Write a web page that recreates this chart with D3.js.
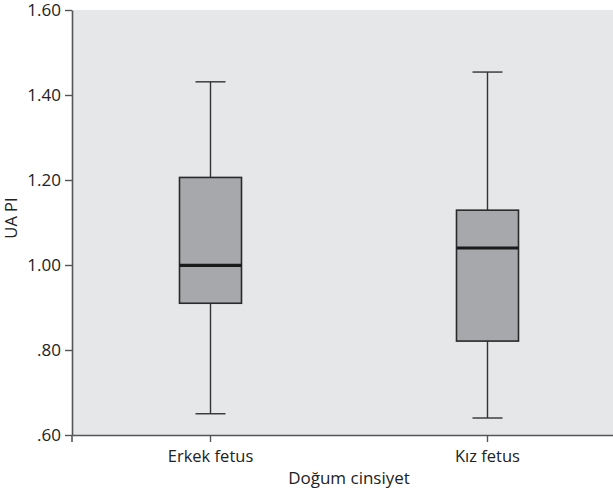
<!DOCTYPE html>
<html><head><meta charset="utf-8">
<script src="https://cdn.jsdelivr.net/npm/d3@7"></script>
<style>body{margin:0;background:#fff}svg{display:block}text{font-family:"Open Sans",sans-serif;fill:#222}</style>
</head><body>
<svg id="c" width="613" height="498"></svg>
<script>
const categories = ["Erkek fetus", "Kız fetus"];
const whiskerLow = [0.65, 0.64];
const q1 = [0.91, 0.821];
const median = [0.999, 1.04];
const q3 = [1.206, 1.129];
const whiskerHigh = [1.431, 1.454];
const yTicks = [0.6, 0.8, 1.0, 1.2, 1.4, 1.6];
const yLabel = "UA PI";
const xLabel = "Doğum cinsiyet";

const svg = d3.select("#c");
const L = 72, R = 626, T = 10, B = 435;
const x = d3.scaleBand().domain(categories).range([L, R]);
const y = d3.scaleLinear().domain([0.6, 1.6]).range([B, T]);

svg.append("rect").attr("x", L).attr("y", T).attr("width", R - L).attr("height", B - T).attr("fill", "#e6e7e9");

const fmt = v => d3.format(".2f")(v).replace(/^0/, "");
const yAxis = svg.append("g").attr("transform", `translate(${L},0)`)
  .call(d3.axisLeft(y).tickValues(yTicks).tickFormat(fmt).tickSize(7).tickSizeOuter(0).tickPadding(4));
yAxis.select(".domain").attr("stroke", "#555").attr("stroke-width", 1.6);
yAxis.selectAll(".tick line").attr("stroke", "#555").attr("stroke-width", 1.4);
yAxis.selectAll(".tick text").style("font-size", "17px").attr("fill", "#333");

const xAxis = svg.append("g").attr("transform", `translate(0,${B})`)
  .call(d3.axisBottom(x).tickSize(7).tickSizeOuter(0).tickPadding(8));
xAxis.select(".domain").attr("stroke", "#555").attr("stroke-width", 1.6);
xAxis.selectAll(".tick line").attr("stroke", "#555").attr("stroke-width", 1.4);
xAxis.selectAll(".tick text").style("font-size", "16.5px").attr("fill", "#333");
svg.append("line").attr("x1", L).attr("x2", L).attr("y1", B).attr("y2", B + 7).attr("stroke", "#555").attr("stroke-width", 1.6);

const bw = 62, cw = 30;
categories.forEach((c, i) => {
  const cx = x(c) + x.bandwidth() / 2;
  const g = svg.append("g");
  g.append("line").attr("x1", cx).attr("x2", cx).attr("y1", y(whiskerHigh[i])).attr("y2", y(q3[i])).attr("stroke", "#333").attr("stroke-width", 1.4);
  g.append("line").attr("x1", cx).attr("x2", cx).attr("y1", y(q1[i])).attr("y2", y(whiskerLow[i])).attr("stroke", "#333").attr("stroke-width", 1.4);
  g.append("line").attr("x1", cx - cw / 2).attr("x2", cx + cw / 2).attr("y1", y(whiskerHigh[i])).attr("y2", y(whiskerHigh[i])).attr("stroke", "#333").attr("stroke-width", 1.4);
  g.append("line").attr("x1", cx - cw / 2).attr("x2", cx + cw / 2).attr("y1", y(whiskerLow[i])).attr("y2", y(whiskerLow[i])).attr("stroke", "#333").attr("stroke-width", 1.4);
  g.append("rect").attr("x", cx - bw / 2).attr("y", y(q3[i])).attr("width", bw).attr("height", y(q1[i]) - y(q3[i]))
    .attr("fill", "#a7a8ac").attr("stroke", "#2a2a2a").attr("stroke-width", 1.6);
  g.append("line").attr("x1", cx - bw / 2).attr("x2", cx + bw / 2).attr("y1", y(median[i])).attr("y2", y(median[i])).attr("stroke", "#1a1a1a").attr("stroke-width", 3.2);
});

svg.append("text").attr("x", (L + R) / 2).attr("y", 484).attr("text-anchor", "middle").style("font-size", "17px").text(xLabel);
svg.append("text").attr("transform", `translate(17,218) rotate(-90)`).attr("text-anchor", "middle").style("font-size", "16.5px").text(yLabel);
</script>
</body></html>
